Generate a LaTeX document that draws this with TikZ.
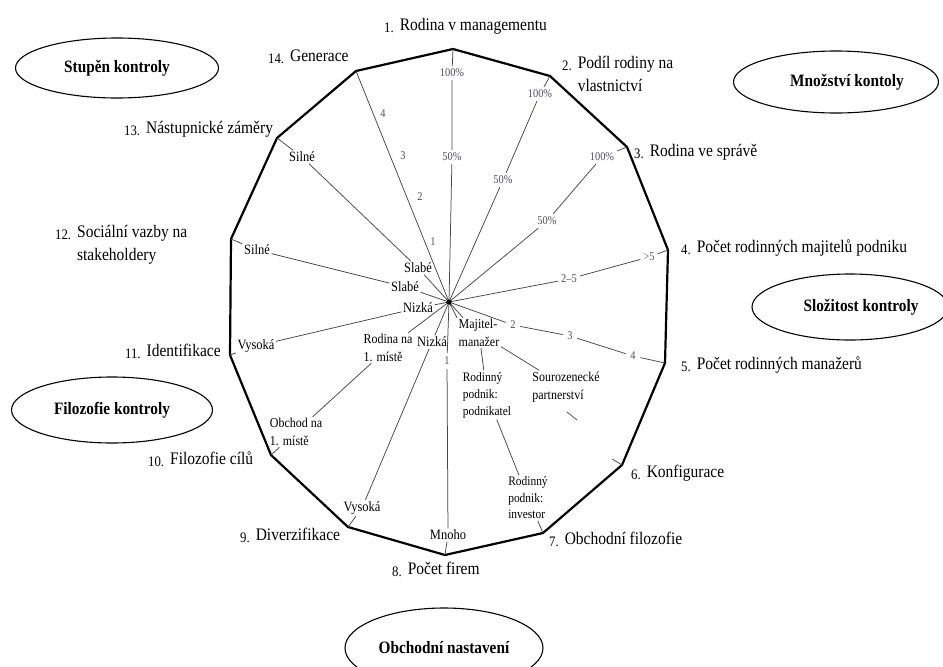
\documentclass[tikz,border=0pt]{standalone}
\usepackage{fontspec}
\setmainfont[FakeStretch=0.88]{Liberation Serif}
\usetikzlibrary{shapes.geometric}
\definecolor{tickgray}{RGB}{80,80,95}
\newcommand\axnum[1]{{\fontsize{14.5}{16}\selectfont\raisebox{-2pt}{#1}}\hspace{6pt}}
\begin{document}
\begin{tikzpicture}[x=1pt,y=-1pt,
  poly/.style={line width=2.2pt, line join=miter},
  spoke/.style={line width=0.75pt, draw=black!72},
  pct/.style={font=\fontsize{11.8}{13}\selectfont, text=tickgray, inner sep=3pt},
  lab/.style={font=\fontsize{14.2}{18}\selectfont, inner sep=1.5pt},
  labs/.style={font=\fontsize{13.6}{17.5}\selectfont, inner sep=1.5pt, align=left},
  axl/.style={anchor=base west, inner sep=0pt, font=\fontsize{17.6}{23.5}\selectfont},
  ell/.style={ellipse, draw, line width=1.1pt, inner sep=0pt, font=\bfseries\fontsize{17.4}{18}\selectfont}]
\useasboundingbox (0,0) rectangle (943,667);
\fill[white] (0,0) rectangle (943,667);

% centre and vertices
\coordinate (C) at (449,302);
\coordinate (V1) at (453,49);
\coordinate (V2) at (550,76);
\coordinate (V3) at (627,147);
\coordinate (V4) at (668,250);
\coordinate (V5) at (665,363);
\coordinate (V6) at (622,465);
\coordinate (V7) at (543,533);
\coordinate (V8) at (445,555);
\coordinate (V9) at (348,527);
\coordinate (V10) at (271,455);
\coordinate (V11) at (230,355);
\coordinate (V12) at (231,239);
\coordinate (V13) at (277,138);
\coordinate (V14) at (356,71);

\draw[poly] (V1) -- (V2) -- (V3) -- (V4) -- (V5) -- (V6) -- (V7) -- (V8)
  -- (V9) -- (V10) -- (V11) -- (V12) -- (V13) -- (V14) -- cycle;

% spoke 1
\node[pct] (p1a) at (452,157) {50\%};
\node[pct] (p1b) at (452,73) {100\%};
\draw[spoke] (C) -- (p1a) (p1a) -- (p1b) (p1b) -- (V1);
% spoke 2
\node[pct] (p2a) at (503,180) {50\%};
\node[pct] (p2b) at (540,94) {100\%};
\draw[spoke] (C) -- (p2a) (p2a) -- (p2b) (p2b) -- (V2);
% spoke 3
\node[pct] (p3a) at (547,221) {50\%};
\node[pct] (p3b) at (602,157) {100\%};
\draw[spoke] (C) -- (p3a) (p3a) -- (p3b) (p3b) -- (V3);
% spoke 4
\node[pct] (p4a) at (569,279) {2--5};
\node[pct] (p4b) at (649,257) {\textgreater5};
\draw[spoke] (C) -- (p4a) (p4a) -- (p4b) (p4b) -- (V4);
% spoke 5
\node[pct, inner sep=4.5pt] (p5a) at (513,325) {2};
\node[pct, inner sep=4.5pt] (p5b) at (570,336) {3};
\node[pct, inner sep=4.5pt] (p5c) at (633,356) {4};
\draw[spoke] (C) -- (p5a) (p5a) -- (p5b) (p5b) -- (p5c) (p5c) -- (V5);
% spokes 6 and 7
\node[labs] (maj) at (479,333) {Majitel-\\manažer};
\node[labs] (sour) at (566,387) {Sourozenecké\\partnerství};
\node[labs, font=\fontsize{13}{17}\selectfont] (podn) at (487,395) {Rodinný\\podnik:\\podnikatel};
\node[labs, font=\fontsize{13}{16.5}\selectfont] (inv) at (528,498) {Rodinný\\podnik:\\investor};
\coordinate (s6a) at (567,412);
\coordinate (s6b) at (577,420);
\coordinate (s6c) at (612,459);
\draw[spoke] (C) -- (maj.north west) (C) -- ([xshift=6pt]maj.north west)
  (maj) -- (sour) (s6a) -- (s6b) (s6c) -- (V6);
\draw[spoke] (maj) -- (podn) (podn) -- (inv) (inv) -- (V7);
% spoke 8
\node[pct, inner sep=4pt] (p8a) at (447,361) {1};
\node[lab] (mnoho) at (448,535) {Mnoho};
\draw[spoke] (C) -- (p8a) (p8a) -- (mnoho) (mnoho) -- (V8);
% spoke 9
\node[lab] (niz9) at (432,342) {Nizká};
\node[lab] (vys9) at (362,508) {Vysoká};
\draw[spoke] (C) -- (niz9) (niz9) -- (vys9) (vys9) -- (V9);
% spoke 10
\node[labs] (rod10) at (388,348) {Rodina na\\1. místě};
\node[labs] (obch) at (296,432) {Obchod na\\1. místě};
\draw[spoke] (C) -- (rod10) (rod10) -- (obch) (obch) -- (V10);
% spoke 11
\node[lab] (niz11) at (418,308) {Nizká};
\node[lab] (vys11) at (256,346) {Vysoká};
\draw[spoke] (C) -- (niz11) (niz11) -- (vys11) (vys11) -- (V11);
% spoke 12
\node[lab] (sla12) at (405,287) {Slabé};
\node[lab] (sil12) at (257,250) {Silné};
\draw[spoke] (C) -- (sla12) (sla12) -- (sil12) (sil12) -- (V12);
% spoke 13
\node[lab] (sla13) at (418,268) {Slabé};
\node[lab] (sil13) at (302,157) {Silné};
\draw[spoke] (C) -- (sla13) (sla13) -- (sil13) (sil13) -- (V13);
% spoke 14
\draw[spoke] (C) -- (V14);
\node[pct] (q1) at (433,242) {1};
\node[pct] (q2) at (420,197) {2};
\node[pct] (q3) at (403,156) {3};
\node[pct] (q4) at (383,114) {4};

\fill (C) circle (2.6pt);

% axis labels
\node[axl] (a1) at (384,30) {\axnum{1.}Rodina v managementu};
\node[axl] (a2) at (562,68) {\axnum{2.}\begin{tabular}[t]{@{}l@{}}Podíl rodiny na\\vlastnictví\end{tabular}};
\node[axl] (a3) at (634,156) {\axnum{3.}Rodina ve správě};
\node[axl] (a4) at (681,252) {\axnum{4.}Počet rodinných majitelů podniku};
\node[axl] (a5) at (681,369) {\axnum{5.}Počet rodinných manažerů};
\node[axl] (a6) at (631,477) {\axnum{6.}Konfigurace};
\node[axl] (a7) at (549,544) {\axnum{7.}Obchodní filozofie};
\node[axl] (a8) at (392,574) {\axnum{8.}Počet firem};
\node[axl] (a9) at (240,540) {\axnum{9.}Diverzifikace};
\node[axl] (a10) at (148,464) {\axnum{10.}Filozofie cílů};
\node[axl] (a11) at (125,356) {\axnum{11.}Identifikace};
\node[axl] (a12) at (55,237) {\axnum{12.}\begin{tabular}[t]{@{}l@{}}Sociální vazby na\\stakeholdery\end{tabular}};
\node[axl] (a13) at (124,133) {\axnum{13.}Nástupnické záměry};
\node[axl] (a14) at (268,61) {\axnum{14.}Generace};

% group ellipses
\node[ell, minimum width=203pt, minimum height=60pt] (e1) at (117,68) {Stupěn kontroly};
\node[ell, minimum width=205pt, minimum height=62pt] (e2) at (836,82) {\hspace*{22pt}Množství kontoly};
\node[ell, minimum width=196pt, minimum height=66pt] (e3) at (850,307) {\hspace*{22pt}Složitost kontroly};
\node[ell, minimum width=201pt, minimum height=66pt] (e4) at (112,410) {Filozofie kontroly};
\node[ell, minimum width=198pt, minimum height=80pt] (e5) at (444,648) {Obchodní nastavení};
\end{tikzpicture}
\end{document}
